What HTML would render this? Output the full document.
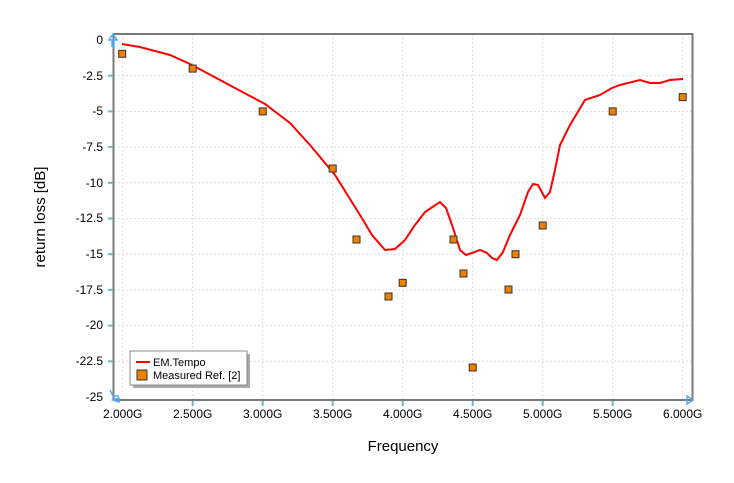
<!DOCTYPE html>
<html><head><style>body{margin:0;background:#fff}</style></head><body>
<svg width="734" height="478" viewBox="0 0 734 478" xmlns="http://www.w3.org/2000/svg" font-family="Liberation Sans, sans-serif">
<rect width="734" height="478" fill="#fff"/>
<g stroke="#ddd" stroke-dasharray="2,2" stroke-width="1">
<line x1="114" y1="75.7" x2="693" y2="75.7"/><line x1="114" y1="111.4" x2="693" y2="111.4"/><line x1="114" y1="147.1" x2="693" y2="147.1"/><line x1="114" y1="182.8" x2="693" y2="182.8"/><line x1="114" y1="218.5" x2="693" y2="218.5"/><line x1="114" y1="254.2" x2="693" y2="254.2"/><line x1="114" y1="289.9" x2="693" y2="289.9"/><line x1="114" y1="325.6" x2="693" y2="325.6"/><line x1="114" y1="361.3" x2="693" y2="361.3"/>
<line x1="122.7" y1="34" x2="122.7" y2="400"/><line x1="192.7" y1="34" x2="192.7" y2="400"/><line x1="262.7" y1="34" x2="262.7" y2="400"/><line x1="332.7" y1="34" x2="332.7" y2="400"/><line x1="402.7" y1="34" x2="402.7" y2="400"/><line x1="472.7" y1="34" x2="472.7" y2="400"/><line x1="542.7" y1="34" x2="542.7" y2="400"/><line x1="612.7" y1="34" x2="612.7" y2="400"/><line x1="682.7" y1="34" x2="682.7" y2="400"/>
</g>
<rect x="113.5" y="34" width="579" height="366" fill="none" stroke="#7a7a7a" stroke-width="2"/>
<g stroke="#6bb" stroke-width="2">
<line x1="108" y1="75.7" x2="113" y2="75.7"/><line x1="108" y1="111.4" x2="113" y2="111.4"/><line x1="108" y1="147.1" x2="113" y2="147.1"/><line x1="108" y1="182.8" x2="113" y2="182.8"/><line x1="108" y1="218.5" x2="113" y2="218.5"/><line x1="108" y1="254.2" x2="113" y2="254.2"/><line x1="108" y1="289.9" x2="113" y2="289.9"/><line x1="108" y1="325.6" x2="113" y2="325.6"/><line x1="108" y1="361.3" x2="113" y2="361.3"/>
<line x1="192.7" y1="401" x2="192.7" y2="406"/><line x1="262.7" y1="401" x2="262.7" y2="406"/><line x1="332.7" y1="401" x2="332.7" y2="406"/><line x1="402.7" y1="401" x2="402.7" y2="406"/><line x1="472.7" y1="401" x2="472.7" y2="406"/><line x1="542.7" y1="401" x2="542.7" y2="406"/><line x1="612.7" y1="401" x2="612.7" y2="406"/>
</g>
<g font-size="12" fill="#000" text-anchor="end">
<text x="103" y="44">0</text><text x="103" y="80">-2.5</text><text x="103" y="115">-5</text><text x="103" y="151">-7.5</text><text x="103" y="187">-10</text><text x="103" y="222">-12.5</text><text x="103" y="258">-15</text><text x="103" y="294">-17.5</text><text x="103" y="329">-20</text><text x="103" y="365">-22.5</text><text x="103" y="401">-25</text>
</g>
<g font-size="12" fill="#000" text-anchor="middle">
<text x="122.7" y="418">2.000G</text><text x="192.7" y="418">2.500G</text><text x="262.7" y="418">3.000G</text><text x="332.7" y="418">3.500G</text><text x="402.7" y="418">4.000G</text><text x="472.7" y="418">4.500G</text><text x="542.7" y="418">5.000G</text><text x="612.7" y="418">5.500G</text><text x="682.7" y="418">6.000G</text>
</g>
<text x="403" y="451" font-size="15" text-anchor="middle">Frequency</text>
<text transform="translate(45,217) rotate(-90)" font-size="15" text-anchor="middle">return loss [dB]</text>
<polyline fill="none" stroke="#f00" stroke-width="2" points="122,44 140,47 170,55 190,64 220,80 250,96 265,104 290,123 310,145 335,175 360,215 372,235 385,250 395,249 405,240 415,225 425,212 440,202 446,208 452,225 460,250 466,255 472,253 480,250 487,253 492,258 497,260 503,252 510,235 520,215 528,192 533,184 538,185 545,198 550,192 555,170 560,145 570,125 585,100 600,95 612,88 620,85 640,80 650,83 660,83 670,80 683,79"/>
<g fill="#f08000" stroke="#333" stroke-width="1">
<rect x="118.7" y="50.3" width="7" height="7"/><rect x="189.2" y="65.1" width="7" height="7"/><rect x="259.2" y="107.9" width="7" height="7"/><rect x="329.2" y="165" width="7" height="7"/><rect x="353" y="236" width="7" height="7"/><rect x="385" y="293" width="7" height="7"/><rect x="399.2" y="279.3" width="7" height="7"/><rect x="450" y="236" width="7" height="7"/><rect x="460" y="270" width="7" height="7"/><rect x="469.2" y="364" width="7" height="7"/><rect x="505" y="286" width="7" height="7"/><rect x="512" y="250.7" width="7" height="7"/><rect x="539.2" y="222" width="7" height="7"/><rect x="609.2" y="107.9" width="7" height="7"/><rect x="679.2" y="93.6" width="7" height="7"/>
</g>
<rect x="133" y="354" width="117" height="34" fill="#555" opacity="0.5"/>
<rect x="130" y="351" width="117" height="34" fill="#fff" stroke="#888"/>
<line x1="136" y1="362" x2="150" y2="362" stroke="#f00" stroke-width="2"/>
<text x="153" y="366" font-size="11">EM.Tempo</text>
<rect x="137" y="370" width="10" height="10" fill="#f08000" stroke="#333"/>
<text x="153" y="379" font-size="11">Measured Ref. [2]</text>
<g fill="none" stroke="#5af" stroke-width="1.5">
<path d="M113 34 l-4 6 h3 v6 h2 v-6 h3 z"/>
<path d="M110 390 l3 6 l6 0 M113 400 l6 -2 v4 z"/>
<path d="M693 400 l-6 -4 v8 z"/>
</g>
</svg>
</body></html>
